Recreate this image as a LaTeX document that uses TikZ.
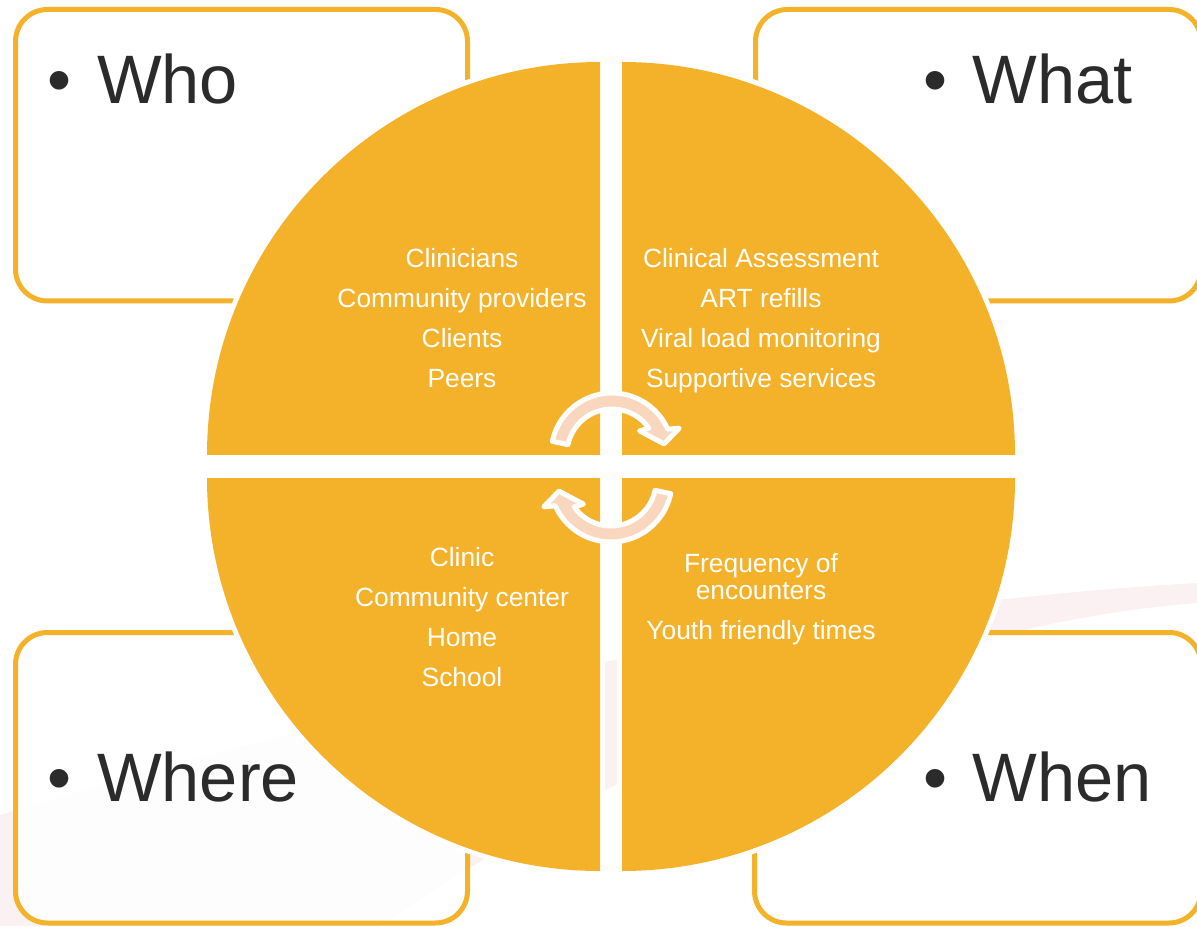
\documentclass[tikz,border=0pt]{standalone}
\usepackage{fontspec}
\setmainfont{Liberation Sans}
\definecolor{wheel}{RGB}{244,178,42}
\definecolor{cycle}{RGB}{249,215,190}
\definecolor{swoosh}{RGB}{251,241,242}
\definecolor{label}{RGB}{43,43,43}
\tikzset{
  card/.style={draw=wheel, line width=1mm, rounded corners=6.4mm, fill=white, fill opacity=.9},
  quarter/.style={fill=wheel, preaction={draw=white, line width=2mm}},
  heading/.style={anchor=base west, inner sep=0pt, text=label, font=\fontsize{39}{39}\selectfont},
  items/.style={align=center, text=white, font=\fontsize{15}{22.8}\selectfont},
  turn/.style={fill=cycle, draw=white, line width=1mm, line join=round},
}

\begin{document}
\begin{tikzpicture}[x=.2mm, y=.2mm]
        \clip (0, 0) rectangle (1197, 926);
        \fill[white] (0, 0) rectangle (1197, 926);
        % background swoosh
        \fill[swoosh] (0, 111) .. controls (400, 230) and (800, 320) .. (1197, 343)
          -- (1197, 323) .. controls (900, 300) and (600, 150) .. (380, 0) -- (0, 0) -- cycle;
        % cards
        \draw[card] (15.5, 625) rectangle (467.5, 916.5);
        \draw[card] (755.5, 625) rectangle (1201, 916.5);
        \draw[card] (15.5, 3) rectangle (467.5, 293.5);
        \draw[card] (754.5, 3) rectangle (1201, 293.5);
        \node[heading] (who) at (47.5, 822) {•\hspace{.37em}Who};
        \node[heading] (what) at (923, 822) {•\hspace{.37em}What};
        \node[heading] (where) at (47.5, 125) {•\hspace{.37em}Where};
        \node[heading] (when) at (923, 125) {•\hspace{.37em}When};
        % wheel
        \path[quarter] (600, 471) -- (207, 471) arc[start angle=180, end angle=90, radius=393] -- cycle;
        \path[quarter] (622, 471) -- (622, 864) arc[start angle=90, end angle=0, radius=393] -- cycle;
        \path[quarter] (600, 448) -- (600, 55) arc[start angle=270, end angle=180, radius=393] -- cycle;
        \path[quarter] (622, 448) -- (1015, 448) arc[start angle=0, end angle=-90, radius=393] -- cycle;
        \node[items] (who list) at (462, 608) {Clinicians\\Community providers\\Clients\\Peers};
        \node[items] (what list) at (761, 605) {Clinical Assessment\\ART refills\\Viral load monitoring\\Supportive services};
        \node[items] (where list) at (462, 309) {Clinic\\Community center\\Home\\School};
        \node[items] (when list) at (761, 327) {Frequency of\\[-7.4pt]encounters\\Youth friendly times};
        % arrows
        \foreach \x/\y/\r in {612/472/0, 611/445/180}
          \path[turn, shift={(\x, \y)}, rotate=\r] (168:61) arc[start angle=168, end angle=24, radius=61]
            -- (21:72) -- (11:53) -- (40:36) -- (35:45) arc[start angle=35, end angle=168, radius=45] -- cycle;
      \end{tikzpicture}
\end{document}
